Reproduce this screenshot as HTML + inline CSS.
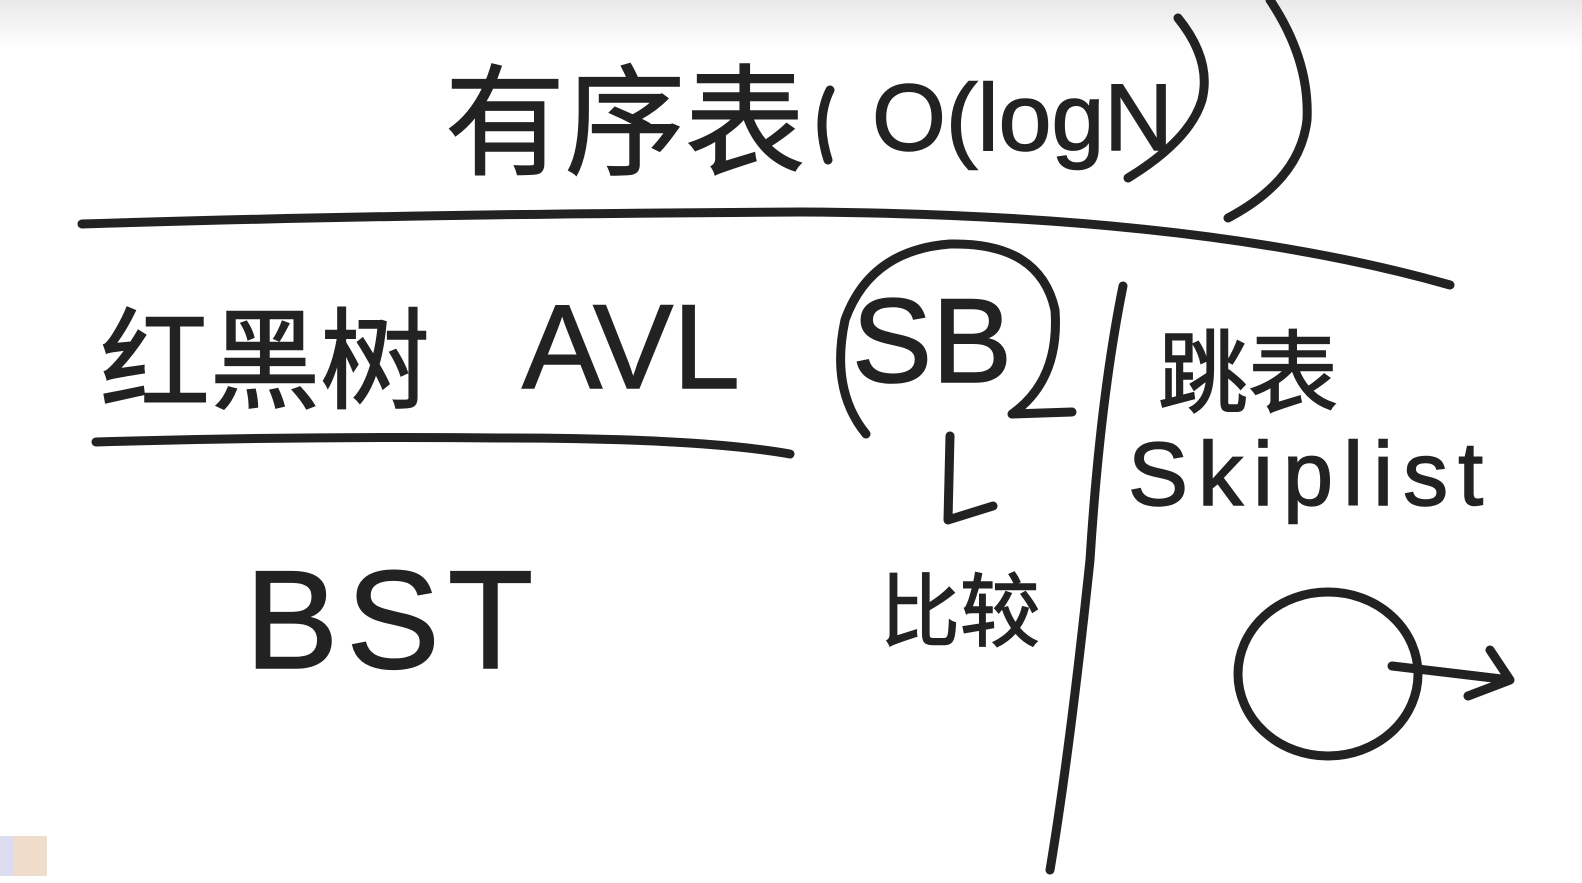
<!DOCTYPE html>
<html><head><meta charset="utf-8"><style>
html,body{margin:0;padding:0;width:1582px;height:883px;overflow:hidden;background:#fff}
svg{display:block}
text{font-family:"Liberation Sans","Noto Sans CJK SC",sans-serif;fill:#222;stroke:#222;stroke-width:1.5}
</style></head><body>
<svg width="1582" height="883" viewBox="0 0 1582 883" xmlns="http://www.w3.org/2000/svg">
<defs><linearGradient id="g" x1="0" y1="0" x2="0" y2="1"><stop offset="0" stop-color="#e9e9e9"/><stop offset="1" stop-color="#fff"/></linearGradient></defs>
<rect width="1582" height="50" fill="url(#g)"/>
<rect x="0" y="836" width="14" height="40" fill="#dcdcf0"/>
<rect x="14" y="836" width="33" height="40" fill="#efdccb"/>
<g fill="none" stroke="#222" stroke-width="9" stroke-linecap="round" stroke-linejoin="round">
<path d="M82 224 Q400 214 800 212 Q1200 214 1450 285"/>
<path d="M96 442 Q300 436 500 438 Q700 438 790 454"/>
<path d="M866 434 Q830 390 845 320 Q870 250 950 244 Q1040 242 1055 310 Q1060 380 1012 414 L1072 412"/>
<path d="M1123 286 Q1100 400 1090 560 Q1070 750 1050 870"/>
<path d="M950 436 L948 520 L993 506"/>
<ellipse cx="1328" cy="674" rx="90" ry="82"/>
<path d="M1392 666 L1510 680 M1490 650 L1510 680 L1468 696"/>
<path d="M830 90 Q815 120 828 160 M1270 0 Q1310 60 1307 120 Q1300 180 1228 218 M1178 18 Q1212 60 1202 100 Q1190 140 1128 178"/>
</g>
<text x="445" y="165" font-size="120">有序表</text>
<text x="872" y="150" font-size="95">O(logN</text>
<text x="100" y="400" font-size="110">红黑树</text>
<text x="522" y="388" font-size="120">AVL</text>
<text x="852" y="382" font-size="120">SB</text>
<text x="1158" y="405" font-size="90">跳表</text>
<text x="1128" y="505" font-size="90" letter-spacing="10">Skiplist</text>
<text x="245" y="668" font-size="140" letter-spacing="8">BST</text>
<text x="880" y="640" font-size="80">比较</text>
</svg>
</body></html>
